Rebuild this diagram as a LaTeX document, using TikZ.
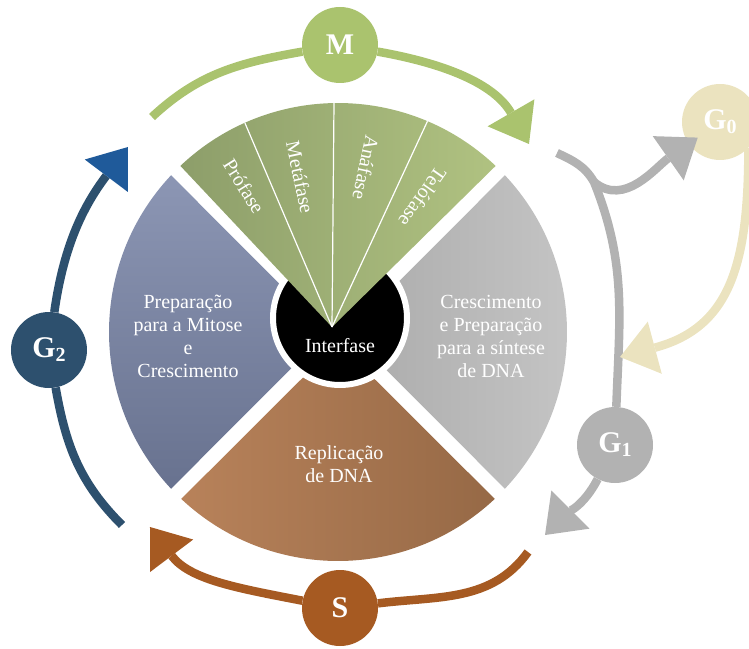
\documentclass[tikz,border=0pt]{standalone}
\usepackage{fontspec}
\setmainfont{Liberation Serif}
\usetikzlibrary{arrows.meta,calc}
\definecolor{mitgreen}{HTML}{AAC36E}
\definecolor{fangreenA}{HTML}{8D9E6A}
\definecolor{fangreenB}{HTML}{B0C281}
\definecolor{g2blue}{HTML}{2D506E}
\definecolor{g2tip}{HTML}{1F5A9A}
\definecolor{secblueA}{HTML}{8C96B4}
\definecolor{secblueB}{HTML}{68728F}
\definecolor{sbrown}{HTML}{A65A22}
\definecolor{secbrownA}{HTML}{B8825A}
\definecolor{secbrownB}{HTML}{966946}
\definecolor{g1gray}{HTML}{B2B2B2}
\definecolor{secgrayA}{HTML}{ABABAB}
\definecolor{secgrayB}{HTML}{C6C6C6}
\definecolor{g0beige}{HTML}{EBE3BF}

% G with a lowered index, as in G0, G1, G2
\newcommand{\gfase}[1]{G\raisebox{-4pt}{\fontsize{20}{20}\selectfont\bfseries #1}}

\begin{document}
\begin{tikzpicture}[
    x=1pt, y=1pt,
    sectortext/.style={text=white, align=center, font=\fontsize{20}{23}\selectfont},
    phasetext/.style={text=white, font=\fontsize{20}{24}\selectfont},
    stagecircle/.style={circle, minimum size=76pt, inner sep=0pt, text=white,
      font=\fontsize{30}{30}\selectfont\bfseries},
    cyclearrow/.style={line width=8.5pt, -{Triangle[width=54pt, length=36pt, line width=0pt]}},
    grayseg/.style={left color=secgrayA, right color=secgrayB},
    blueseg/.style={top color=secblueA, bottom color=secblueB},
    brownseg/.style={left color=secbrownA, right color=secbrownB},
    fanseg/.style={left color=fangreenA, right color=fangreenB}
  ]
  \path[use as bounding box] (-338,-316) rectangle (411,332);
  \clip (-338,-316) rectangle (411,332);

  % interphase quadrants
  \foreach \a/\seg in {0/grayseg, 180/blueseg, 270/brownseg}
    \path[\seg] (\a:10.6) -- (\a-43.2:229)
      arc[start angle=\a-43.2, end angle=\a+43.2, radius=229] -- cycle;

  \node[circle, fill=black, draw=white, line width=6pt, minimum size=134pt] (nucleo) at (2,14) {};

  % mitosis fan with its four phases
  \coordinate (apex) at (-6,5);
  \path[fanseg] (apex) -- (46.5:229) arc[start angle=46.5, end angle=133.5, radius=229] -- cycle;
  \foreach \ang in {67,91,114}
    \draw[white, line width=1.2pt] (apex) -- (\ang:229);
  \foreach \ang/\rad/\fase [count=\k] in {122/166/Prófase, 102/153/Metáfase, 78/163/Anáfase, 55/158/Telófase}
    \node[phasetext, rotate=\ang-180] (fase\k) at ($(apex)+(\ang:\rad)$) {\fase};

  \node[sectortext] (g2txt) at (-150,-4) {Preparação\\para a Mitose\\e\\Crescimento};
  \node[sectortext] (g1txt) at (153,-4) {Crescimento\\e Preparação\\para a síntese\\de DNA};
  \node[sectortext] (stxt) at (1,-132) {Replicação\\de DNA};
  \node[sectortext] (interfase) at (2,-14) {Interfase};

  % stage circles
  \node[stagecircle, fill=mitgreen] (M) at (2,287) {M};
  \node[stagecircle, fill=g2blue] (G2) at (-289,-18) {\gfase{2}};
  \node[stagecircle, fill=sbrown] (S) at (2,-276) {S};
  \node[stagecircle, fill=g1gray] (G1) at (277,-113) {\gfase{1}};
  \node[stagecircle, fill=g0beige] (G0) at (382,210) {\gfase{0}};

  \coordinate (mtail) at (-186,215);
  \coordinate (mhead) at (191,188);
  \coordinate (g2tail) at (-216,-193);
  \coordinate (g2head) at (-210,185);
  \coordinate (stail) at (190,-220);
  \coordinate (shead) at (-188,-195);
  \coordinate (g1tail) at (219,179);
  \coordinate (g0fork) at (256,150);
  \coordinate (g1head) at (207,-203);
  \coordinate (g0head) at (282,-25);

  % cycle arrows
  \draw[cyclearrow, mitgreen] (mtail) to[out=43, in=190] (M) to[out=-10, in=120] (mhead);
  \draw[cyclearrow, g2blue, -{Triangle[width=54pt, length=36pt, line width=0pt, color=g2tip]}]
    (g2tail) to[out=135, in=-80] (G2) to[out=82, in=-127] (g2head);
  \draw[cyclearrow, sbrown] (stail) to[out=234, in=7] (S) to[out=169, in=-53] (shead);
  \draw[cyclearrow, g1gray] (g1tail) to[out=-25, in=120] (g0fork)
    to[out=-68, in=88] (G1) to[out=-117, in=45] (g1head);
  \draw[cyclearrow, g1gray, shorten >=-11pt] (g0fork) to[out=-40, in=215] (G0);
  \draw[cyclearrow, g0beige] (G0.-42) to[out=-90, in=15, looseness=1.2] (g0head);
\end{tikzpicture}
\end{document}
